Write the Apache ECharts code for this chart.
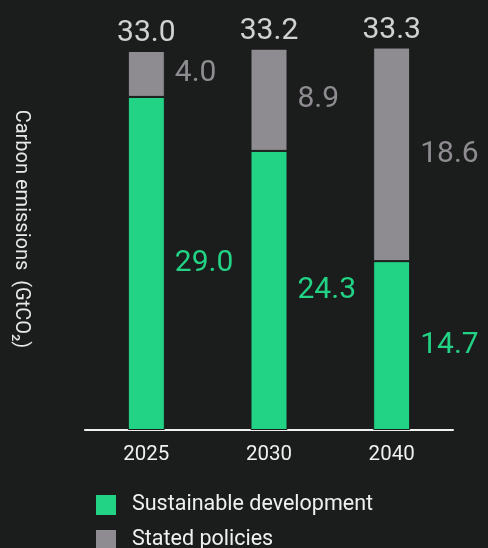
<!DOCTYPE html>
<html>
<head>
<meta charset="utf-8">
<script src="https://cdn.jsdelivr.net/npm/echarts@6/dist/echarts.min.js"></script>
<style>
html,body{margin:0;padding:0;background:#1b1c1c;}
#chart{width:488px;height:548px;}
</style>
</head>
<body>
<div id="chart"></div>
<script>
const categories = ['2025', '2030', '2040'];
const sustainable = [29.0, 24.3, 14.7];
const stated = [4.0, 8.9, 18.6];
const totals = [33.0, 33.2, 33.3];
const seriesNames = ['Sustainable development', 'Stated policies'];
const axisTitle = 'Carbon emissions  (GtCO\u2082)';

const GREEN = '#22d385';
const GRAY = '#8e8c91';
const BG = '#1b1c1c';
const FONT = 'Roboto, "DejaVu Sans", sans-serif';

const legendBase = {
  orient: 'vertical',
  left: 94,
  itemWidth: 22,
  itemHeight: 22,
  icon: 'rect',
  padding: 0,
  textStyle: { color: '#f0f0f0', fontSize: 21.5, fontFamily: FONT, padding: [0, 0, 0, 10] }
};

const chart = echarts.init(document.getElementById('chart'));
chart.setOption({
  backgroundColor: BG,
  animation: false,
  textStyle: { fontFamily: FONT },
  grid: { left: 85, right: 35, top: 28, bottom: 118 },
  legend: [
    Object.assign({}, legendBase, { top: 493, data: [seriesNames[0]] }),
    Object.assign({}, legendBase, { top: 528, data: [seriesNames[1]] })
  ],
  xAxis: {
    type: 'category',
    data: categories,
    axisLine: { show: true, lineStyle: { color: '#f0f0f0', width: 2 } },
    axisTick: { show: false },
    axisLabel: { color: '#f0f0f0', fontSize: 20.5, margin: 14, fontFamily: FONT }
  },
  yAxis: {
    type: 'value',
    min: 0,
    max: 35,
    axisLine: { show: false },
    axisTick: { show: false },
    axisLabel: { show: false },
    splitLine: { show: false },
    name: axisTitle,
    nameLocation: 'middle',
    nameRotate: -90,
    nameGap: 54,
    nameTextStyle: { color: '#e8e8e8', fontSize: 20, fontFamily: FONT }
  },
  series: [
    {
      name: seriesNames[0],
      type: 'bar',
      stack: 'total',
      barWidth: 37,
      data: sustainable,
      itemStyle: { color: GREEN, borderColor: BG, borderWidth: 1 },
      label: {
        show: true, position: 'right', distance: 10,
        color: GREEN, fontSize: 30, fontFamily: FONT,
        formatter: p => p.value.toFixed(1)
      }
    },
    {
      name: seriesNames[1],
      type: 'bar',
      stack: 'total',
      barWidth: 37,
      data: stated,
      itemStyle: { color: GRAY, borderColor: BG, borderWidth: 1 },
      label: {
        show: true, position: 'right', distance: 10,
        color: GRAY, fontSize: 30, fontFamily: FONT,
        formatter: p => p.value.toFixed(1)
      }
    },
    {
      name: 'Total',
      type: 'scatter',
      data: totals,
      symbolSize: 0,
      silent: true,
      label: {
        show: true, position: 'top', distance: 2,
        color: '#ffffff', fontSize: 30, fontFamily: FONT,
        formatter: p => p.value.toFixed(1)
      }
    }
  ]
});
</script>
</body>
</html>
